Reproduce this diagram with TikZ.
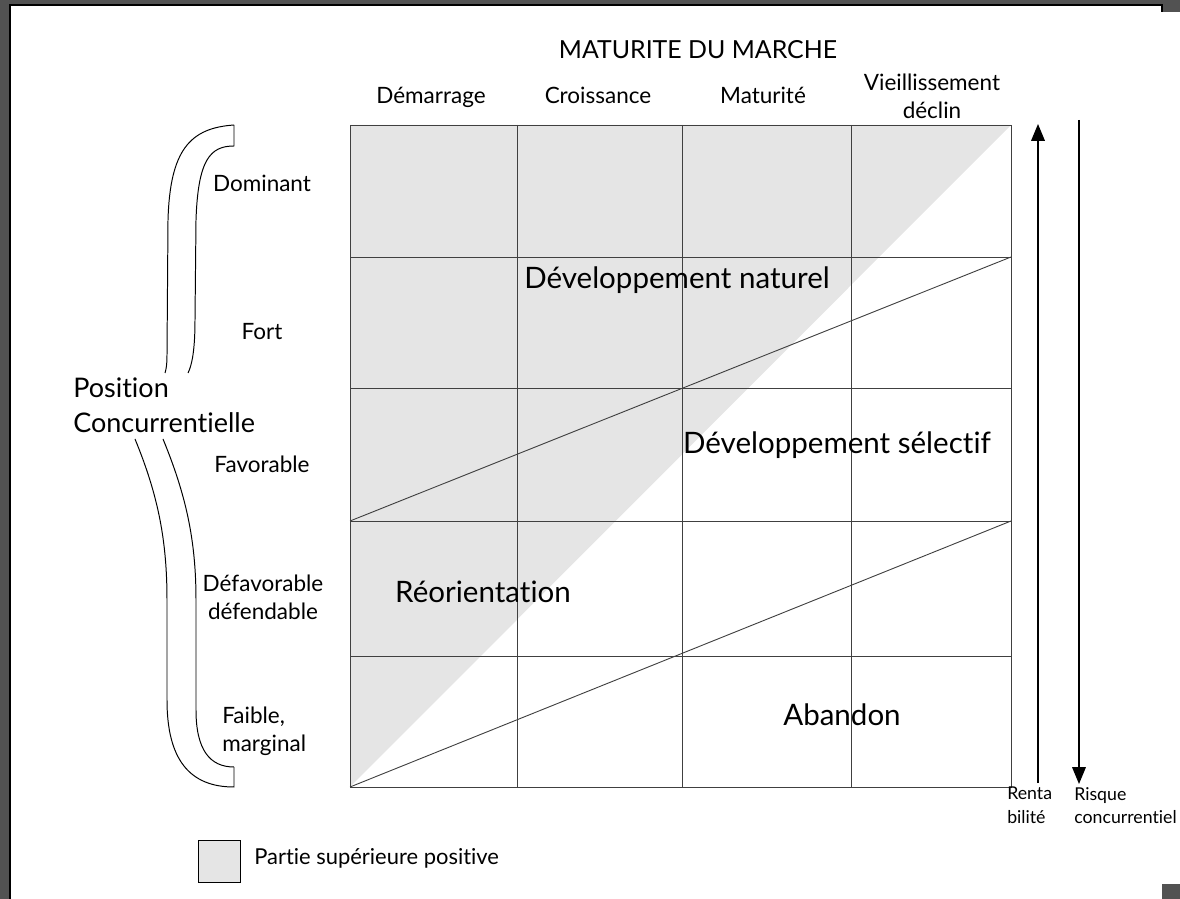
\documentclass[tikz,border=0pt]{standalone}
\usepackage{fontspec}
\setmainfont[Ligatures=NoCommon]{Lato}
\usepackage{tikz}
\usetikzlibrary{arrows.meta}

\tikzset{
  cell/.style={line width=0.65pt, black!75},
  zone/.style={inner sep=0pt, font=\fontsize{21}{24}\selectfont},
  phase/.style={inner sep=0pt, align=center, font=\fontsize{16}{20}\selectfont},
  rang/.style={inner sep=0pt, align=center, font=\fontsize{16}{20}\selectfont},
  petit/.style={inner sep=0pt, align=left, anchor=north west, font=\fontsize{12.6}{16.4}\selectfont},
  accolade/.style={line width=0.7pt}
}

\begin{document}
\begin{tikzpicture}[x=0.025cm, y=-0.025cm]
\useasboundingbox (0,0) rectangle (1180,899);

% cadre
\fill[black!68] (0,0) rectangle (10,899);
\fill[black!68] (0,0) rectangle (1180,5);
\fill[black!68] (1162,0) rectangle (1180,12);
\fill[black!68] (1162,884) rectangle (1180,899);
\draw[line width=1pt] (10,899) -- (10,5) -- (1162,5) -- (1162,12);

% grille
\coordinate (a0) at (350,125);
\coordinate (a1) at (517,125);
\coordinate (a2) at (682,125);
\coordinate (a3) at (851,125);
\coordinate (a4) at (1011,125);
\coordinate (b0) at (350,787);
\coordinate (b1) at (517,787);
\coordinate (b2) at (682,787);
\coordinate (b3) at (851,787);
\coordinate (b4) at (1011,787);
\coordinate (l1) at (350,257);
\coordinate (l2) at (350,388);
\coordinate (l3) at (350,521);
\coordinate (l4) at (350,656);
\coordinate (r1) at (1011,257);
\coordinate (r2) at (1011,388);
\coordinate (r3) at (1011,521);
\coordinate (r4) at (1011,656);

\fill[gray!20] (a0) -- (a4) -- (b0) -- cycle;

\draw[cell] (a0) rectangle (b4);
\draw[cell] (a1) -- (b1);
\draw[cell] (a2) -- (b2);
\draw[cell] (a3) -- (b3);
\draw[cell] (l1) -- (r1);
\draw[cell] (l2) -- (r2);
\draw[cell] (l3) -- (r3);
\draw[cell] (l4) -- (r4);
\draw[cell] (l3) -- (r1);
\draw[cell] (b0) -- (r3);

% zones
\node (natur)[zone] at (677,280) {Développement naturel};
\node (selec)[zone] at (837,445) {Développement sélectif};
\node (reori)[zone] at (483,592) {Réorientation};
\node (aband)[zone] at (842,715) {Abandon};

% maturite
\node (titre)[phase, anchor=base, font=\fontsize{17.7}{20}\selectfont] at (698,59) {MATURITE DU MARCHE};
\node (dem)[phase, anchor=base] at (431,104) {Démarrage};
\node (cro)[phase, anchor=base] at (598,104) {Croissance};
\node (mat)[phase, anchor=base] at (763,104) {Maturité};
\node (vie)[phase] at (932,96) {Vieillissement\\déclin};

% position
\node (dom)[rang] at (262,183) {Dominant};
\node (for)[rang] at (262,332) {Fort};
\node (fav)[rang] at (262,464) {Favorable};
\node (def)[rang] at (263,597) {Défavorable\\défendable};
\node (fai)[rang, align=left, anchor=west] at (222,731) {Faible,\\marginal};
\node (pos)[inner sep=0pt, align=left, anchor=west, font=\fontsize{19.2}{24.9}\selectfont] at (73,405) {Position\\Concurrentielle};

\draw[accolade] (234,125) .. controls (190,128) and (170,150) .. (168,220) -- (167,355) .. controls (167,365) and (166,370) .. (165,373);
\draw[accolade] (234,125) -- (234,146) .. controls (210,146) and (198,160) .. (196,220) -- (195,320) .. controls (195,350) and (192,365) .. (188,373);
\draw[accolade] (135,439) .. controls (158,495) and (167,540) .. (167,600) -- (167,700) .. controls (167,760) and (190,787) .. (234,787) -- (234,767);
\draw[accolade] (163,439) .. controls (186,495) and (196,540) .. (196,600) -- (196,710) .. controls (196,750) and (210,767) .. (234,767);

% fleches
\coordinate (rb) at (1038,783);
\coordinate (rh) at (1038,124);
\coordinate (qh) at (1079,120);
\coordinate (qb) at (1079,784);
\draw[line width=0.9pt, -{Triangle[length=0.42cm, width=0.34cm]}] (rb) -- (rh);
\draw[line width=0.9pt, -{Triangle[length=0.42cm, width=0.34cm]}] (qh) -- (qb);
\node (renta)[petit] at (1007,787) {Renta\\bilité};
\node (risque)[petit] at (1074,787) {Risque\\concurrentiel};

% legende
\node (leg)[draw, fill=gray!20, line width=0.7pt, minimum size=1.05cm, inner sep=0pt] at (219,861) {};
\node (legtxt)[inner sep=0pt, anchor=west, font=\fontsize{15.6}{18}\selectfont] at (254,858) {Partie supérieure positive};

\end{tikzpicture}
\end{document}
